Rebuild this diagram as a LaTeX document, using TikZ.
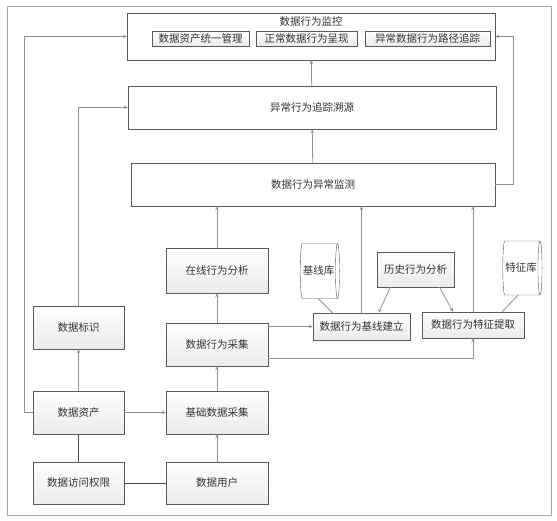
\documentclass[tikz,border=0pt]{standalone}
\usepackage{fontspec}
\newfontfamily\cjk{Noto Sans CJK SC}
\usetikzlibrary{positioning,shapes.geometric,arrows.meta,shadows}

\begin{document}
\begin{tikzpicture}[x=1pt, y=-1pt,
  txt/.style={font=\cjk\fontsize{10.5}{12}\selectfont, text=black!80},
  box/.style={txt, draw=gray!70!black, rectangle, top color=white, bottom color=gray!16, inner sep=1pt,
    drop shadow={shadow xshift=1pt, shadow yshift=-1pt, opacity=0.25}},
  bigbox/.style={txt, draw=gray!70!black, rectangle, fill=white, inner sep=1pt},
  dbase/.style={txt, draw=gray!70!black, cylinder, aspect=0.35, fill=white, inner sep=1pt},
  arr/.style={draw=gray!85, line width=0.8pt, -{Stealth[length=4pt, width=3.5pt]}},
  ln/.style={draw=gray!85, line width=0.8pt},
  dark/.style={draw=black!70, line width=0.8pt}]
\useasboundingbox (0,0) rectangle (557,521);
\draw[gray!70, line width=0.8pt] (7,6) rectangle (551,515);

% Boxes
\node[bigbox, minimum width=368pt, minimum height=47pt] (mon) at (311,36.5) {};
\node[txt] (montitle) at (311,22) {数据行为监控};
\node[box, minimum width=97pt, minimum height=15pt] (unify) at (200.5,38.5) {数据资产统一管理};
\node[box, minimum width=101pt, minimum height=15pt] (normal) at (306.5,38.5) {正常数据行为呈现};
\node[box, minimum width=125pt, minimum height=15pt] (path) at (427.5,38.5) {异常数据行为路径追踪};
\node[bigbox, minimum width=368pt, minimum height=43pt] (trace) at (312,107.5) {异常行为追踪溯源};
\node[bigbox, minimum width=364pt, minimum height=43pt] (detect) at (313,184.5) {数据行为异常监测};
\node[box, minimum width=102pt, minimum height=45pt] (online) at (217,270.5) {在线行为分析};
\node[box, minimum width=102pt, minimum height=43pt] (collect) at (217,344.5) {数据行为采集};
\node[box, minimum width=102pt, minimum height=43pt] (basic) at (217,412.5) {基础数据采集};
\node[box, minimum width=102pt, minimum height=42pt] (user) at (217,483) {数据用户};
\node[box, minimum width=91pt, minimum height=43pt] (mark) at (78.5,327.5) {数据标识};
\node[box, minimum width=91pt, minimum height=43pt] (asset) at (78.5,412.5) {数据资产};
\node[box, minimum width=91pt, minimum height=42pt] (access) at (78.5,483) {数据访问权限};
\node[dbase, minimum width=55pt, minimum height=34pt] (baselib) at (318.5,271) {基线库};
\node[box, minimum width=77pt, minimum height=35pt] (hist) at (415.5,269.5) {历史行为分析};
\node[dbase, minimum width=54pt, minimum height=32pt] (featlib) at (521,268) {特征库};
\node[box, minimum width=97pt, minimum height=27pt] (base) at (361.5,326.5) {数据行为基线建立};
\node[box, minimum width=102pt, minimum height=26pt] (feat) at (473,325) {数据行为特征提取};

% Arrows
\draw[arr] (asset.west) -- ++(-8,0) |- (mon.west);
\draw[arr] (mark.north) |- (trace.west);
\draw[arr] (asset) -- (mark);
\draw[dark] (asset) -- (access);
\draw[dark] (access) -- (user);
\draw[arr] (asset) -- (basic);
\draw[arr] (user) -- (basic);
\draw[arr] (basic) -- (collect);
\draw[arr] (collect) -- (online);
\draw[arr] (online.north) -- (online.north |- detect.south);
\draw[arr] (detect) -- (trace);
\draw[arr] (trace) -- (mon);
\draw[arr] (detect.east) -- ++(18,0) |- (mon.east);
\draw[arr] (collect.east |- base.west) -- (base.west);
\draw[arr] ([yshift=-13.5pt]collect.east) -| (feat.south);
\draw[arr] (base.north) -- (base.north |- detect.south);
\draw[arr] (feat.north) -- (feat.north |- detect.south);
\draw[ln] (baselib.south) -- ([xshift=-29pt]base.north);
\draw[arr] ([xshift=-25pt]hist.south) -- ([xshift=17pt]base.north);
\draw[arr] ([xshift=24pt]hist.south) -- ([xshift=-20pt]feat.north);
\draw[ln] ([xshift=-3pt]featlib.south) -- ([xshift=29pt]feat.north);
\end{tikzpicture}
\end{document}
